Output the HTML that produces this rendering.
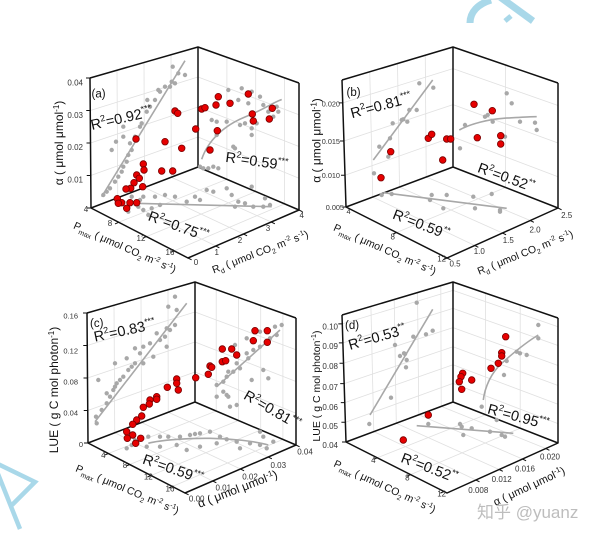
<!DOCTYPE html>
<html><head><meta charset="utf-8"><style>
html,body{margin:0;padding:0;background:#fff;}
svg{display:block;font-family:"Liberation Sans","Noto Sans CJK SC",sans-serif;}
.grid{stroke:#e0e0e0;stroke-width:0.8;fill:none}
.box{stroke:#111;stroke-width:1.5;fill:none;stroke-linejoin:round}
.tk{stroke:#111;stroke-width:1;fill:none}
.gd{stroke:#a8a8a8;stroke-width:4.4;stroke-linecap:round;fill:none}
.rl{stroke:#a8a8a8;stroke-width:1.6;fill:none}
.r{fill:#e60000;stroke:#7a0000;stroke-width:0.8}
.tl{font-size:8px;fill:#333}
.at{font-size:10.5px;fill:#111}
.r2{font-size:14.5px;fill:#111}
.pl{font-size:11.5px;fill:#111}
</style></head><body>
<svg width="600" height="539" viewBox="0 0 600 539" xmlns="http://www.w3.org/2000/svg">
<rect width="600" height="539" fill="#fff"/>

<!-- watermark shapes -->
<path d="M470 23 C470 12 478 4 491 0" stroke="#a9d8e9" stroke-width="7" fill="none"/>
<path d="M500 -3 L533 21" stroke="#a9d8e9" stroke-width="7" fill="none"/>
<path d="M505 21 L511 16" stroke="#a9d8e9" stroke-width="5" fill="none"/>
<path d="M-2 464 L35 482 L12 505" stroke="#a9d8e9" stroke-width="4.5" fill="none"/>
<path d="M-2 474 L20 529" stroke="#a9d8e9" stroke-width="4.5" fill="none"/>

<!-- ===== Panel A ===== -->
<g transform="translate(198,167)">
<path class="grid" d="M-80.25 30.75L-81 -96.75M-53.5 20.5L-54 -104.5M-26.75 10.25L-27 -112.25M-107.25 8.5L0 -30M-107.5 -24L0 -60M-107.75 -56.5L0 -90M28.9 12.3L28.9 -109.7M57.7 24.6L57.7 -99.4M86.6 36.9L86.6 -89.1M0 -30L101 11.25M0 -60L101 -20.5M0 -90L101 -52.25M-80.25 30.75L17.75 79M-53.5 20.5L45.5 67M-26.75 10.25L73.25 55M-79.3 55.3L28.9 12.3M-51.6 69.6L57.7 24.6M-23.9 83.9L86.6 36.9"/>
<path class="box" d="M-108 -89L0 -120L101 -84M0 -120L0 0M-108 -89L-107 41L-10 91L101 43L101 -84M-107 41L0 0L101 43"/>
<path class="tk" d="M-107 41h-4M-107.25 8.5h-4M-107.5 -24h-4M-107.75 -56.5h-4M-108 -89h-4M-79.3 55.3l-3.7 1.6M-51.6 69.6l-3.7 1.6M-23.9 83.9l-3.7 1.6M-10 91l3.6 1.8M17.75 79l3.6 1.8M45.5 67l3.6 1.8M73.25 55l3.6 1.8M101 43l3.6 1.8"/>
</g>
<path class="gd" d="M103.3 195h0M106.7 191.7h0M110 188.3h0M115 181.7h0M118.3 176.7h0M121.7 171.7h0M123.3 166.7h0M126.7 161.7h0M128.3 155h0M131.7 150h0M130 143.3h0M123.3 136.7h0M135 136.7h0M140 126.7h0M141.7 123.3h0M146.7 111.7h0M150 106.7h0M155 100h0M160 91.7h0M165 86.7h0M171.7 81.7h0M175 83.3h0M172.7 66.7h0M178.3 73.3h0M185 75h0M147.3 100h0M158.3 90h0M170 86.7h0M123.3 126.7h0M116 141.7h0M111.7 150h0
M200 166.7h0M203.3 168.3h0M208.3 168.3h0M213.3 166.7h0M218.3 168.3h0M216.7 135h0M233.3 146.7h0M235 148.3h0M211.7 120h0M216.7 121.7h0M226.7 121.7h0M240 125h0M245 123.3h0M251.7 128.3h0M251.7 135h0M256.7 123.3h0M241.7 88.3h0M251.7 91.7h0M260 96.7h0M263.3 105h0M276.7 106.7h0M278.3 111.7h0M273.3 116.7h0M268.3 111.7h0M228.3 90h0M238.3 100h0M248.3 103.3h0
M128.3 190h0M131.7 196.7h0M138.3 206.7h0M143.3 210h0M151.7 208.3h0M160 205h0M155 196.7h0M165 195h0M175 196.7h0M186.7 201.7h0M195 196.7h0M200 200h0M206.7 190h0M213.3 191.7h0M226.7 188.3h0M231.7 195h0M238.3 201.7h0M245 203.3h0M253.3 206.7h0M263.3 206.7h0M270 205h0M265 198.3h0M251.7 186.7h0M235 206.7h0M143.3 196.7h0M148.3 215h0M128.3 211.7h0M140 200h0"/>
<path class="rl" d="M101.7 196.7L185 60.7M201.7 159.3C208 140 225 125 245 117S270 104 281.7 99.5M135 203.3L271.7 206.7"/>
<g class="r">
<circle cx="136" cy="139" r="3.3"/><circle cx="175" cy="111" r="3.3"/><circle cx="177.7" cy="113.3" r="3.3"/><circle cx="165" cy="141.7" r="3.3"/><circle cx="181.7" cy="148.3" r="3.3"/><circle cx="195.7" cy="129" r="3.3"/><circle cx="201.7" cy="109" r="3.3"/><circle cx="205" cy="107.7" r="3.3"/><circle cx="218.3" cy="96.7" r="3.3"/><circle cx="216" cy="105" r="3.3"/><circle cx="230" cy="103.3" r="3.3"/><circle cx="248.3" cy="94" r="3.3"/><circle cx="252.3" cy="114" r="3.3"/><circle cx="253.3" cy="121" r="3.3"/><circle cx="272.3" cy="108.3" r="3.3"/><circle cx="269.3" cy="119" r="3.3"/><circle cx="217.3" cy="130.7" r="3.3"/><circle cx="210" cy="150" r="3.3"/><circle cx="172.7" cy="171" r="3.3"/><circle cx="161.7" cy="171" r="3.3"/><circle cx="143.3" cy="164" r="3.3"/><circle cx="144" cy="170" r="3.3"/><circle cx="136.7" cy="175" r="3.3"/><circle cx="139.3" cy="178.3" r="3.3"/><circle cx="134" cy="182.7" r="3.3"/><circle cx="142.7" cy="186.7" r="3.3"/><circle cx="130.7" cy="188.3" r="3.3"/><circle cx="126" cy="189" r="3.3"/><circle cx="117.3" cy="198.7" r="3.3"/><circle cx="121.7" cy="202.7" r="3.3"/><circle cx="118.3" cy="203.3" r="3.3"/><circle cx="130" cy="202.7" r="3.3"/><circle cx="136.7" cy="202.7" r="3.3"/><circle cx="126.7" cy="208.3" r="3.3"/>
</g>
<g class="tl">
<text x="83" y="85.5" text-anchor="end">0.04</text><text x="83" y="118" text-anchor="end">0.03</text><text x="83" y="150" text-anchor="end">0.02</text><text x="83" y="182.5" text-anchor="end">0.01</text><text x="86" y="212" text-anchor="middle">4</text>
<text x="110" y="226" text-anchor="middle">8</text><text x="141" y="241" text-anchor="middle">12</text><text x="170" y="255" text-anchor="middle">16</text>
<text x="196" y="265" text-anchor="middle">0</text><text x="216.7" y="255" text-anchor="middle">1</text><text x="240" y="243" text-anchor="middle">2</text><text x="268" y="231" text-anchor="middle">3</text><text x="301.7" y="218" text-anchor="middle">4</text>
</g>
<text class="pl" x="91.5" y="97.5">(a)</text>
<text class="at" transform="translate(59,143) rotate(-90)" y="4" text-anchor="middle" style="font-size:12px">α ( μmol μmol<tspan dy="-4" font-size="8">-1</tspan><tspan dy="4">)</tspan></text>
<text class="at" transform="translate(125,247) rotate(24)" y="4" text-anchor="middle">P<tspan dy="3" font-size="7">max</tspan><tspan dy="-3"> ( μmol CO</tspan><tspan dy="3" font-size="7">2</tspan><tspan dy="-3"> m</tspan><tspan dy="-4" font-size="7">-2</tspan><tspan dy="4"> s</tspan><tspan dy="-4" font-size="7">-1</tspan><tspan dy="4">)</tspan></text>
<text class="at" transform="translate(260,251.5) rotate(-21)" y="4" text-anchor="middle">R<tspan dy="3" font-size="7">d</tspan><tspan dy="-3"> ( μmol CO</tspan><tspan dy="3" font-size="7">2</tspan><tspan dy="-3"> m</tspan><tspan dy="-4" font-size="7">-2</tspan><tspan dy="4"> s</tspan><tspan dy="-4" font-size="7">-1</tspan><tspan dy="4">)</tspan></text>
<text class="r2" transform="translate(92,130) rotate(-13)">R<tspan dy="-6" font-size="9">2</tspan><tspan dy="6">=0.92</tspan><tspan dy="-6" font-size="9">***</tspan></text>
<text class="r2" transform="translate(225,161.7) rotate(8)">R<tspan dy="-6" font-size="9">2</tspan><tspan dy="6">=0.59</tspan><tspan dy="-6" font-size="9">***</tspan></text>
<text class="r2" transform="translate(147.3,220) rotate(20)">R<tspan dy="-6" font-size="9">2</tspan><tspan dy="6">=0.75</tspan><tspan dy="-6" font-size="9">***</tspan></text>

<!-- ===== Panel B ===== -->
<g transform="translate(453,167)">
<path class="grid" d="M-80.25 30L-83.25 -95.25M-53.5 20L-55.5 -103.5M-26.75 10L-27.75 -111.75M-108 8.25L0 -30M-109.1 -26L0 -62.4M-110.3 -64.1L0 -98.4M52.5 20.5L52.5 -102M0 -30L105 9.75M0 -62.4L105 -24M0 -98.4L105 -61.5M-80.25 30L21.75 78.5M-53.5 20L49.5 66M-26.75 10L77.25 53.5M-56.5 65.5L52.5 20.5"/>
<path class="box" d="M-111 -87L0 -120L105 -84M0 -120L0 0M-111 -87L-107 40L-6 91L105 41L105 -84M-107 40L0 0L105 41"/>
<path class="tk" d="M-107 40h-4M-108 8.25h-4M-109.1 -26h-4M-110.3 -64.1h-4M-56.5 65.5l-3.65 1.64M-6 91l-3.65 1.64M-6 91l3.6 1.8M21.75 78.5l3.6 1.8M49.5 66l3.6 1.8M77.25 53.5l3.6 1.8M105 41l3.6 1.8"/>
</g>
<path class="gd" d="M374 173.3h0M379.3 146.7h0M390 138.3h0M392.7 123.3h0M401.7 120h0M403.3 119.3h0M407.3 121.7h0M409.3 110h0M416.7 110h0M419.3 83.3h0M433.3 87.7h0M388.3 156.7h0
M460 148.3h0M465 125h0M485 116.7h0M487.7 115h0M492.7 121.7h0M506.7 93.3h0M511.7 103.3h0M520 121.7h0M535 122.7h0M536.7 130h0M505 136.7h0
M381.7 195h0M391.7 194h0M431.7 195h0M446.7 195h0M473.3 196.7h0M491.7 194h0M430 200h0M443.3 208.3h0M475 208.3h0M500 210h0M500 211.7h0"/>
<path class="rl" d="M373.3 160L432.7 80M459.3 130C470 124 490 119 503.3 118.3S530 116.5 536.7 116.7M383.3 192.7L506.7 208.3"/>
<g class="r">
<circle cx="381" cy="177.7" r="3.3"/><circle cx="390.7" cy="151.7" r="3.3"/><circle cx="428.3" cy="138.3" r="3.3"/><circle cx="431.7" cy="134.3" r="3.3"/><circle cx="446.7" cy="139" r="3.3"/><circle cx="450.7" cy="139" r="3.3"/><circle cx="442.7" cy="160" r="3.3"/><circle cx="474" cy="104.3" r="3.3"/><circle cx="492.3" cy="110.7" r="3.3"/><circle cx="477.3" cy="137.7" r="3.3"/><circle cx="500.7" cy="135.7" r="3.3"/><circle cx="500.7" cy="144" r="3.3"/>
</g>
<g class="tl" style="font-size:7.3px">
<text x="340" y="106.5" text-anchor="end">0.020</text><text x="340" y="144" text-anchor="end">0.015</text><text x="340" y="178" text-anchor="end">0.010</text><text x="344" y="210" text-anchor="end">0.005</text><text x="348.5" y="214" text-anchor="middle">4</text>
</g>
<g class="tl">
<text x="392.7" y="239.7" text-anchor="middle">8</text><text x="441.7" y="261.3" text-anchor="middle">12</text>
<text x="455" y="266.3" text-anchor="middle">0.5</text><text x="479.3" y="254" text-anchor="middle">1.0</text><text x="508.3" y="243" text-anchor="middle">1.5</text><text x="535" y="232.3" text-anchor="middle">2.0</text><text x="566.7" y="218" text-anchor="middle">2.5</text>
</g>
<text class="pl" x="346.5" y="96">(b)</text>
<text class="at" transform="translate(316.5,140.5) rotate(-90)" y="4" text-anchor="middle" style="font-size:12px">α ( μmol μmol<tspan dy="-4" font-size="8">-1</tspan><tspan dy="4">)</tspan></text>
<text class="at" transform="translate(385,249) rotate(24)" y="4" text-anchor="middle">P<tspan dy="3" font-size="7">max</tspan><tspan dy="-3"> ( μmol CO</tspan><tspan dy="3" font-size="7">2</tspan><tspan dy="-3"> m</tspan><tspan dy="-4" font-size="7">-2</tspan><tspan dy="4"> s</tspan><tspan dy="-4" font-size="7">-1</tspan><tspan dy="4">)</tspan></text>
<text class="at" transform="translate(525,252) rotate(-22)" y="4" text-anchor="middle">R<tspan dy="3" font-size="7">d</tspan><tspan dy="-3"> ( μmol CO</tspan><tspan dy="3" font-size="7">2</tspan><tspan dy="-3"> m</tspan><tspan dy="-4" font-size="7">-2</tspan><tspan dy="4"> s</tspan><tspan dy="-4" font-size="7">-1</tspan><tspan dy="4">)</tspan></text>
<text class="r2" transform="translate(352,118.3) rotate(-15)">R<tspan dy="-6" font-size="9">2</tspan><tspan dy="6">=0.81</tspan><tspan dy="-6" font-size="9">***</tspan></text>
<text class="r2" transform="translate(476.7,171.7) rotate(20)">R<tspan dy="-6" font-size="9">2</tspan><tspan dy="6">=0.52</tspan><tspan dy="-6" font-size="9">**</tspan></text>
<text class="r2" transform="translate(391.7,218.3) rotate(21)">R<tspan dy="-6" font-size="9">2</tspan><tspan dy="6">=0.59</tspan><tspan dy="-6" font-size="9">**</tspan></text>

<!-- ===== Panel C ===== -->
<g transform="translate(195,402)">
<path class="grid" d="M-80.25 30.75L-81 -96.75M-53.5 20.5L-54 -104.5M-26.75 10.25L-27 -112.25M-107.25 8.5L0 -30M-107.5 -24L0 -60M-107.75 -56.5L0 -90M21.2 9L21.2 -112.4M43.4 18.5L43.4 -104.5M65.7 28L65.7 -96.6M87.9 37.4L87.9 -88.7M0 -30L101 11.25M0 -60L101 -20.5M0 -90L101 -52.25M-80.25 30.75L17.75 79M-53.5 20.5L45.5 67M-26.75 10.25L73.25 55M-86.6 51.5L21.2 9M-65.3 62.5L43.4 18.5M-44 73.5L65.7 28M-22.6 84.5L87.9 37.4"/>
<path class="box" d="M-108 -89L0 -120L101 -84M0 -120L0 0M-108 -89L-107 41L-10 91L101 43L101 -84M-107 41L0 0L101 43"/>
<path class="tk" d="M-107 41h-4M-107.25 8.5h-4M-107.5 -24h-4M-107.75 -56.5h-4M-108 -89h-4M-86.6 51.5l-3.7 1.6M-65.3 62.5l-3.7 1.6M-44 73.5l-3.7 1.6M-22.6 84.5l-3.7 1.6M-10 91l3.6 1.8M17.75 79l3.6 1.8M45.5 67l3.6 1.8M73.25 55l3.6 1.8M101 43l3.6 1.8"/>
</g>
<path class="gd" d="M96 416.7h0M96.7 423.3h0M101.7 410h0M106.7 403.3h0M110 396.7h0M113.3 390h0M115 386.7h0M116.7 383.3h0M120 380h0M123.3 376.7h0M106.7 393.3h0M98.3 380h0M128.3 370h0M131.7 366.7h0M135 363.3h0M140 353.3h0M143.3 346.7h0M150 343.3h0M160 340h0M165 336.7h0M156.7 333.3h0M166.7 328.3h0M175 325h0M170 330h0M176.7 310h0M168.3 306.7h0M175 296.7h0M135 348.3h0M126.7 358.3h0M115 363.3h0M143.3 363.3h0M153.3 356.7h0M166.7 346.7h0
M216.7 385h0M223.3 381.7h0M226.7 376.7h0M233.3 371.7h0M240 368.3h0M248.3 358.3h0M253.3 350h0M260 346.7h0M270 338.3h0M276.7 335h0M281.7 325h0M275 326.7h0M246.7 353.3h0M236.7 363.3h0M228.3 371.7h0M223.3 391.7h0M226.7 395h0M216.7 396.7h0M228.3 396.7h0M230 406.7h0M236.7 405h0M251.7 380h0M263.3 370h0M268.3 378.3h0M235 345h0M246.7 338.3h0M260 331.7h0
M126.7 448.3h0M131.7 445h0M135 440h0M141.7 439.3h0M148.3 436.7h0M160 436.7h0M168.3 436.7h0M180 436.7h0M190 435h0M195 434h0M200 433.3h0M210 431.7h0M220 436.7h0M226.7 439.3h0M236.7 441.7h0M250 443.3h0M260 445h0M266.7 448.3h0M273.3 441.7h0M240 448.3h0M176.7 445h0M160 446.7h0M146.7 446.7h0M186.7 450h0M200 446.7h0M216.7 443.3h0M260 431.7h0M263.3 436.7h0"/>
<path class="rl" d="M95 421.7L186.7 303.3M216.7 386.7L280 330M148.3 443.3C160 440 190 438 210 438.3S255 441 268.3 445"/>
<g class="r">
<circle cx="255" cy="330.7" r="3.3"/><circle cx="267.3" cy="330.7" r="3.3"/><circle cx="253.3" cy="340.7" r="3.3"/><circle cx="267.3" cy="342.3" r="3.3"/><circle cx="222.3" cy="349" r="3.3"/><circle cx="231.7" cy="349" r="3.3"/><circle cx="236.7" cy="355" r="3.3"/><circle cx="222.3" cy="361.7" r="3.3"/><circle cx="225.7" cy="360.7" r="3.3"/><circle cx="210" cy="366" r="3.3"/><circle cx="211.7" cy="367.3" r="3.3"/><circle cx="208.3" cy="374.3" r="3.3"/><circle cx="195.7" cy="377.7" r="3.3"/><circle cx="176.7" cy="379" r="3.3"/><circle cx="176.7" cy="383.3" r="3.3"/><circle cx="178.3" cy="390" r="3.3"/><circle cx="167.3" cy="387.3" r="3.3"/><circle cx="156.7" cy="396.7" r="3.3"/><circle cx="156.7" cy="399.3" r="3.3"/><circle cx="150" cy="400" r="3.3"/><circle cx="149.3" cy="404" r="3.3"/><circle cx="143.3" cy="407.3" r="3.3"/><circle cx="141.7" cy="416" r="3.3"/><circle cx="136.7" cy="420" r="3.3"/><circle cx="132.7" cy="424.3" r="3.3"/><circle cx="126.7" cy="431.7" r="3.3"/><circle cx="132.7" cy="435" r="3.3"/><circle cx="127.3" cy="438.3" r="3.3"/><circle cx="140.7" cy="438.3" r="3.3"/><circle cx="135.7" cy="443.3" r="3.3"/>
</g>
<g class="tl" style="font-size:7.5px">
<text x="78" y="318.5" text-anchor="end">0.16</text><text x="78" y="353.5" text-anchor="end">0.12</text><text x="78" y="384.5" text-anchor="end">0.08</text><text x="78" y="415.5" text-anchor="end">0.04</text><text x="83" y="447" text-anchor="end">0</text>
</g>
<g class="tl">
<text x="103.3" y="458" text-anchor="middle">4</text><text x="125" y="468" text-anchor="middle">8</text><text x="148.3" y="479.7" text-anchor="middle">12</text><text x="170" y="491.3" text-anchor="middle">16</text>
<text x="196.7" y="501.3" text-anchor="middle">0.00</text><text x="223.3" y="490.3" text-anchor="middle">0.01</text><text x="250" y="479.7" text-anchor="middle">0.02</text><text x="278.3" y="468" text-anchor="middle">0.03</text><text x="305" y="454.7" text-anchor="middle">0.04</text>
</g>
<text class="pl" x="90" y="327">(c)</text>
<text class="at" transform="translate(54,390) rotate(-90)" y="4" text-anchor="middle" style="font-size:12px">LUE ( g C mol photon<tspan dy="-4" font-size="8">-1</tspan><tspan dy="4">)</tspan></text>
<text class="at" transform="translate(127.5,489) rotate(23)" y="4" text-anchor="middle">P<tspan dy="3" font-size="7">max</tspan><tspan dy="-3"> ( μmol CO</tspan><tspan dy="3" font-size="7">2</tspan><tspan dy="-3"> m</tspan><tspan dy="-4" font-size="7">-2</tspan><tspan dy="4"> s</tspan><tspan dy="-4" font-size="7">-1</tspan><tspan dy="4">)</tspan></text>
<text class="at" transform="translate(237.5,489) rotate(-21)" y="4" text-anchor="middle" style="font-size:12px">α ( μmol μmol<tspan dy="-4" font-size="8">-1</tspan><tspan dy="4">)</tspan></text>
<text class="r2" transform="translate(95,341.7) rotate(-12)">R<tspan dy="-6" font-size="9">2</tspan><tspan dy="6">=0.83</tspan><tspan dy="-6" font-size="9">***</tspan></text>
<text class="r2" transform="translate(242.7,398.3) rotate(30)">R<tspan dy="-6" font-size="9">2</tspan><tspan dy="6">=0.81</tspan><tspan dy="-6" font-size="9">***</tspan></text>
<text class="r2" transform="translate(141.7,463.3) rotate(19)">R<tspan dy="-6" font-size="9">2</tspan><tspan dy="6">=0.59</tspan><tspan dy="-6" font-size="9">***</tspan></text>

<!-- ===== Panel D ===== -->
<g transform="translate(453,402)">
<path class="grid" d="M-79.2 29.6L-82.1 -95.6M-56.7 21.2L-58.8 -102.5M-34.2 12.8L-35.5 -109.4M-11.8 4.4L-12.2 -116.4M-107.6 20.3L0 -18.6M-108.2 0.6L0 -37.2M-108.8 -18.4L0 -55.2M-109.5 -38.7L0 -74.4M-110.1 -59.1L0 -93.6M-110.7 -78.1L0 -111.6M32.6 12.7L32.6 -108.8M67.2 26.2L67.2 -97M0 -18.6L105 21.6M0 -37.2L105 2.25M0 -55.2L105 -16.5M0 -74.4L105 -36.5M0 -93.6L105 -56.5M0 -111.6L105 -75.25M-79.2 29.6L22.9 78M-56.7 21.2L46.2 67.5M-34.2 12.8L69.5 57M-11.8 4.4L92.8 46.5M-75.7 55.8L32.6 12.7M-42.4 72.6L67.2 26.2"/>
<path class="box" d="M-111 -87L0 -120L105 -84M0 -120L0 0M-111 -87L-107 40L-6 91L105 41L105 -84M-107 40L0 0L105 41"/>
<path class="tk" d="M-107 40h-4M-107.6 20.3h-4M-108.2 0.6h-4M-108.8 -18.4h-4M-109.5 -38.7h-4M-110.1 -59.1h-4M-110.7 -78.1h-4M-75.7 55.8l-3.65 1.64M-42.4 72.6l-3.65 1.64M-9 89.5l-3.65 1.64M22.9 78l3.6 1.8M46.2 67.5l3.6 1.8M69.5 57l3.6 1.8M92.8 46.5l3.6 1.8"/>
</g>
<path class="gd" d="M369.3 424h0M391 397.7h0M395 345h0M400 356h0M404 353.3h0M405 354h0M406.7 360h0M406 367.3h0M413.3 336.7h0M416.7 302.7h0M426 334.3h0M432.7 330.7h0
M481.7 406.7h0M504 375h0M506.7 361h0M516.7 351.7h0M520 353.3h0M526.7 355h0M538.3 325h0M538.3 338.3h0
M428.3 424h0M460 424h0M461.7 426.7h0M463.3 435h0M471.7 428.3h0M490 431.7h0M496.7 420h0M501.7 435h0M505 436.7h0"/>
<path class="rl" d="M370 415L432.7 309.3M483.3 400C485 386 492 372 501.7 363.3S525 343 538.3 335M416.7 425.7L513.3 433.3"/>
<g class="r">
<circle cx="505.7" cy="336.7" r="3.3"/><circle cx="501.7" cy="352.7" r="3.3"/><circle cx="501.7" cy="356" r="3.3"/><circle cx="498.3" cy="363.3" r="3.3"/><circle cx="491" cy="368.3" r="3.3"/><circle cx="462.7" cy="373.3" r="3.3"/><circle cx="461" cy="376.7" r="3.3"/><circle cx="459.3" cy="381.7" r="3.3"/><circle cx="471.7" cy="380" r="3.3"/><circle cx="461.7" cy="389.3" r="3.3"/><circle cx="428.3" cy="415" r="3.3"/><circle cx="403.3" cy="440" r="3.3"/>
</g>
<g class="tl">
<text x="338" y="329.7" text-anchor="end">0.10</text><text x="338" y="349" text-anchor="end">0.09</text><text x="338" y="369" text-anchor="end">0.08</text><text x="338" y="390" text-anchor="end">0.07</text><text x="338" y="410" text-anchor="end">0.06</text><text x="338" y="429" text-anchor="end">0.05</text><text x="338" y="448" text-anchor="end">0.04</text>
<text x="373.3" y="463" text-anchor="middle">4</text><text x="407.3" y="480.3" text-anchor="middle">8</text><text x="441.7" y="496.3" text-anchor="middle">12</text>
<text x="478.3" y="493" text-anchor="middle">0.008</text><text x="501.7" y="482" text-anchor="middle">0.012</text><text x="525" y="471.3" text-anchor="middle">0.016</text><text x="550" y="459.7" text-anchor="middle">0.020</text>
</g>
<text class="pl" x="345" y="329">(d)</text>
<text class="at" transform="translate(316,386) rotate(-90)" y="4" text-anchor="middle" style="font-size:10.5px">LUE ( g C mol photon<tspan dy="-4" font-size="7.5">-1</tspan><tspan dy="4">)</tspan></text>
<text class="at" transform="translate(385,486) rotate(25)" y="4" text-anchor="middle">P<tspan dy="3" font-size="7">max</tspan><tspan dy="-3"> ( μmol CO</tspan><tspan dy="3" font-size="7">2</tspan><tspan dy="-3"> m</tspan><tspan dy="-4" font-size="7">-2</tspan><tspan dy="4"> s</tspan><tspan dy="-4" font-size="7">-1</tspan><tspan dy="4">)</tspan></text>
<text class="at" transform="translate(529,486) rotate(-25)" y="4" text-anchor="middle" style="font-size:11px">α ( μmol μmol<tspan dy="-4" font-size="7.5">-1</tspan><tspan dy="4">)</tspan></text>
<text class="r2" transform="translate(350,350) rotate(-16)">R<tspan dy="-6" font-size="9">2</tspan><tspan dy="6">=0.53</tspan><tspan dy="-6" font-size="9">**</tspan></text>
<text class="r2" transform="translate(486.7,413.3) rotate(15)">R<tspan dy="-6" font-size="9">2</tspan><tspan dy="6">=0.95</tspan><tspan dy="-6" font-size="9">***</tspan></text>
<text class="r2" transform="translate(400,461.7) rotate(21)">R<tspan dy="-6" font-size="9">2</tspan><tspan dy="6">=0.52</tspan><tspan dy="-6" font-size="9">**</tspan></text>

<text x="477" y="518" font-size="17" fill="#bdbdbd" font-family="Liberation Sans, Noto Sans CJK SC, sans-serif">知乎 @yuanz</text>
</svg>
</body></html>
